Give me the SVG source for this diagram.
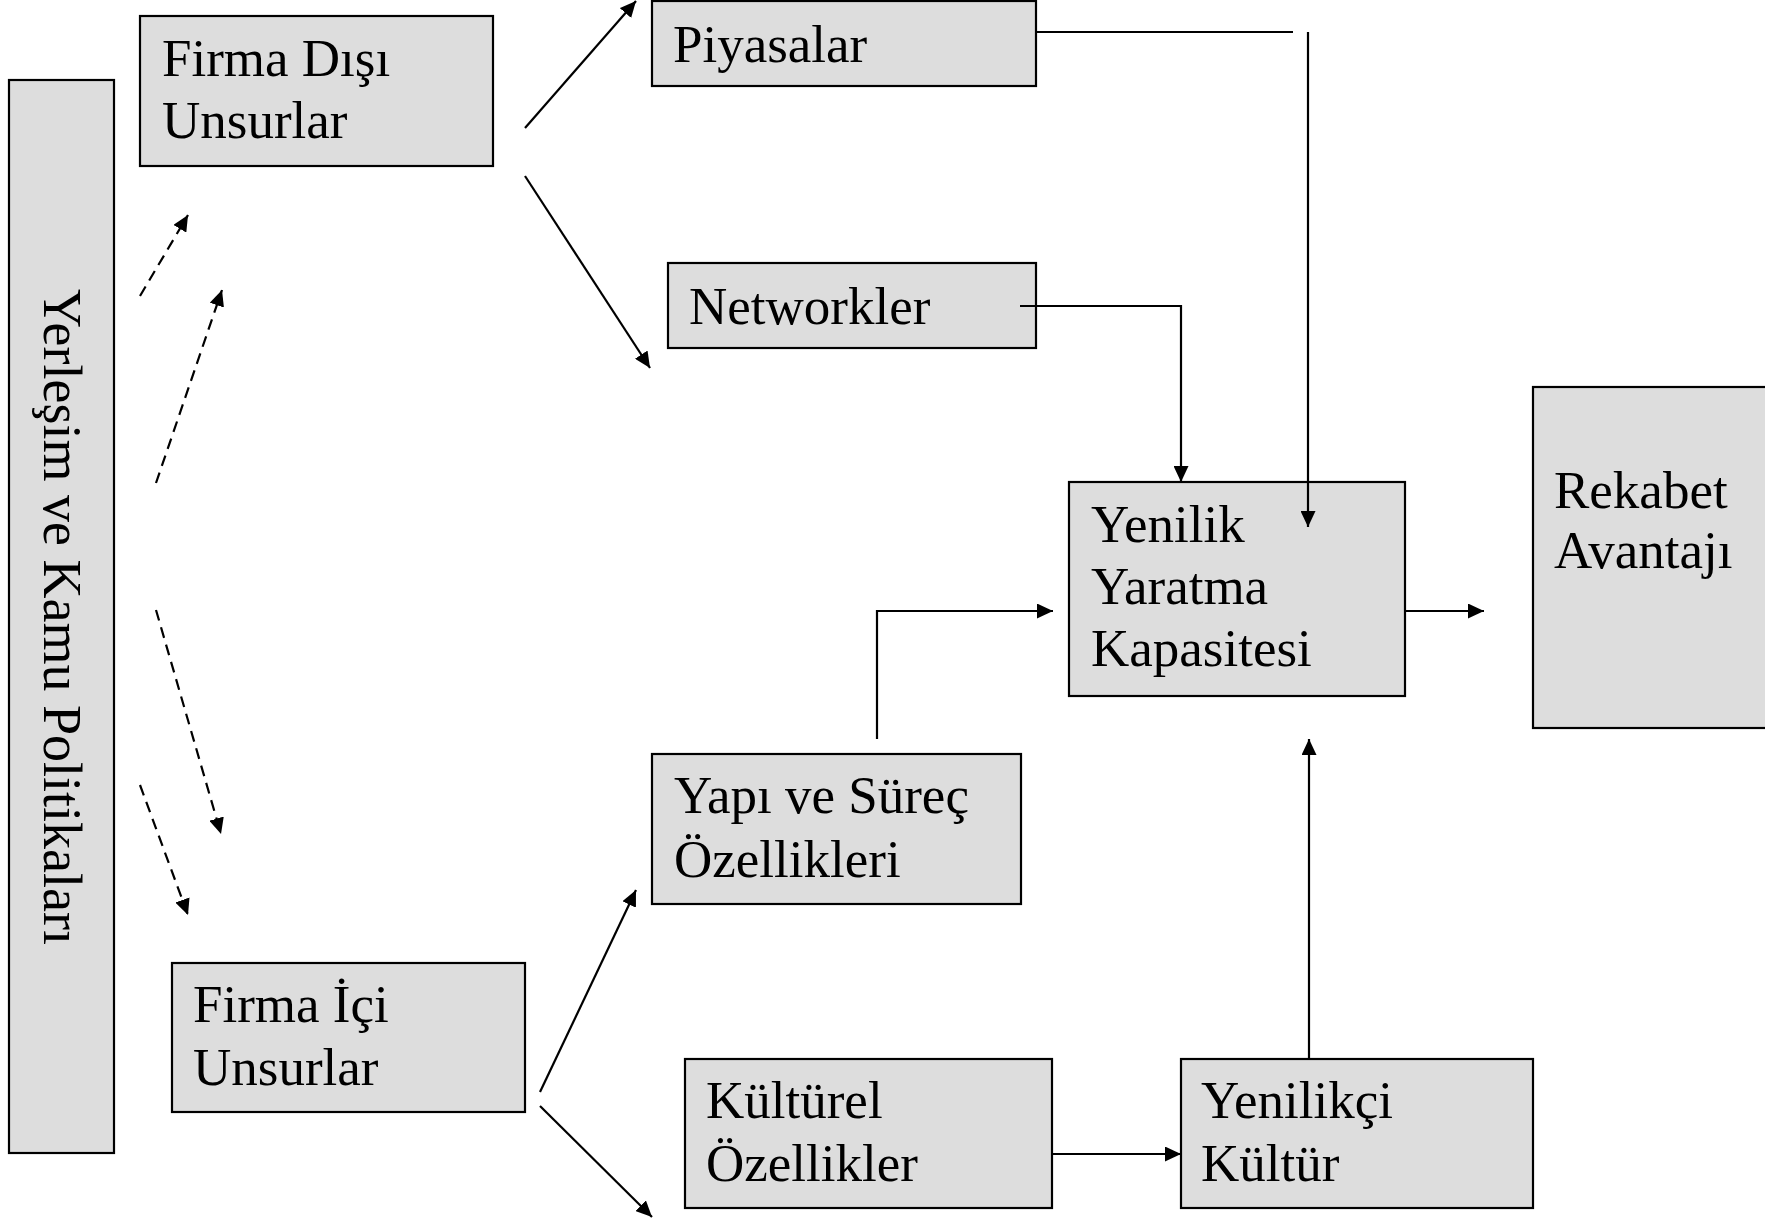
<svg xmlns="http://www.w3.org/2000/svg" width="1765" height="1221" viewBox="0 0 1765 1221">
<style>
.box{fill:#dddddd;stroke:#000;stroke-width:2.2}
.t{font-family:"Liberation Serif","Times New Roman",serif;font-size:53px;fill:#000}
.c{fill:none;stroke:#000;stroke-width:2.2}
.d{fill:none;stroke:#000;stroke-width:2.2;stroke-dasharray:11 7}
</style>
<defs>
<marker id="ah" markerWidth="16" markerHeight="15" refX="16" refY="7.5" orient="auto" markerUnits="userSpaceOnUse">
<path d="M0,0 L16,7.5 L0,15 z" fill="#000"/>
</marker>
</defs>
<rect width="1765" height="1221" fill="#fff"/>

<g id="yerlesim">
<rect class="box" x="9" y="80" width="105" height="1073"/>
<text class="t" style="font-size:54px" transform="translate(44,289) rotate(90)">Yerleşim ve Kamu Politikaları</text>
</g>
<g id="firma-disi">
<rect class="box" x="140" y="16" width="353" height="150"/>
<text class="t" x="162" y="76">Firma Dışı</text>
<text class="t" x="162" y="138">Unsurlar</text>
</g>
<g id="piyasalar">
<rect class="box" x="652" y="1" width="384" height="85"/>
<text class="t" x="673" y="62">Piyasalar</text>
</g>
<g id="networkler">
<rect class="box" x="668" y="263" width="368" height="85"/>
<text class="t" x="689" y="324">Networkler</text>
</g>
<g id="yenilik-yaratma">
<rect class="box" x="1069" y="482" width="336" height="214"/>
<text class="t" x="1091" y="542">Yenilik</text>
<text class="t" x="1091" y="604">Yaratma</text>
<text class="t" x="1091" y="666">Kapasitesi</text>
</g>
<g id="rekabet">
<rect class="box" x="1533" y="387" width="240" height="341"/>
<text class="t" x="1554" y="508">Rekabet</text>
<text class="t" x="1554" y="568">Avantajı</text>
</g>
<g id="yapi-surec">
<rect class="box" x="652" y="754" width="369" height="150"/>
<text class="t" x="674" y="813">Yapı ve Süreç</text>
<text class="t" x="674" y="877">Özellikleri</text>
</g>
<g id="firma-ici">
<rect class="box" x="172" y="963" width="353" height="149"/>
<text class="t" x="193" y="1022">Firma İçi</text>
<text class="t" x="193" y="1085">Unsurlar</text>
</g>
<g id="kulturel">
<rect class="box" x="685" y="1059" width="367" height="149"/>
<text class="t" x="706" y="1118">Kültürel</text>
<text class="t" x="706" y="1181">Özellikler</text>
</g>
<g id="yenilikci-kultur">
<rect class="box" x="1181" y="1059" width="352" height="149"/>
<text class="t" x="1201" y="1118">Yenilikçi</text>
<text class="t" x="1201" y="1181">Kültür</text>
</g>

<g id="connectors">
<line class="c" x1="525" y1="128" x2="636" y2="1" marker-end="url(#ah)"/>
<line class="c" x1="525" y1="176" x2="650" y2="368" marker-end="url(#ah)"/>
<polyline class="c" points="1036,32 1293,32"/>
<line class="c" x1="1308" y1="32" x2="1308" y2="527" marker-end="url(#ah)"/>
<polyline class="c" points="1020,306 1181,306 1181,482" marker-end="url(#ah)"/>
<polyline class="c" points="877,739 877,611 1053,611" marker-end="url(#ah)"/>
<line class="c" x1="1405" y1="611" x2="1484" y2="611" marker-end="url(#ah)"/>
<line class="c" x1="1309" y1="1059" x2="1309" y2="739" marker-end="url(#ah)"/>
<line class="c" x1="1052" y1="1154" x2="1181" y2="1154" marker-end="url(#ah)"/>
<line class="c" x1="540" y1="1092" x2="636" y2="890" marker-end="url(#ah)"/>
<line class="c" x1="540" y1="1106" x2="652" y2="1217" marker-end="url(#ah)"/>
<line class="d" x1="140" y1="296" x2="188" y2="215" marker-end="url(#ah)"/>
<line class="d" x1="156" y1="483" x2="222" y2="290" marker-end="url(#ah)"/>
<line class="d" x1="156" y1="610" x2="221" y2="834" marker-end="url(#ah)"/>
<line class="d" x1="140" y1="785" x2="188" y2="915" marker-end="url(#ah)"/>
</g>
</svg>
